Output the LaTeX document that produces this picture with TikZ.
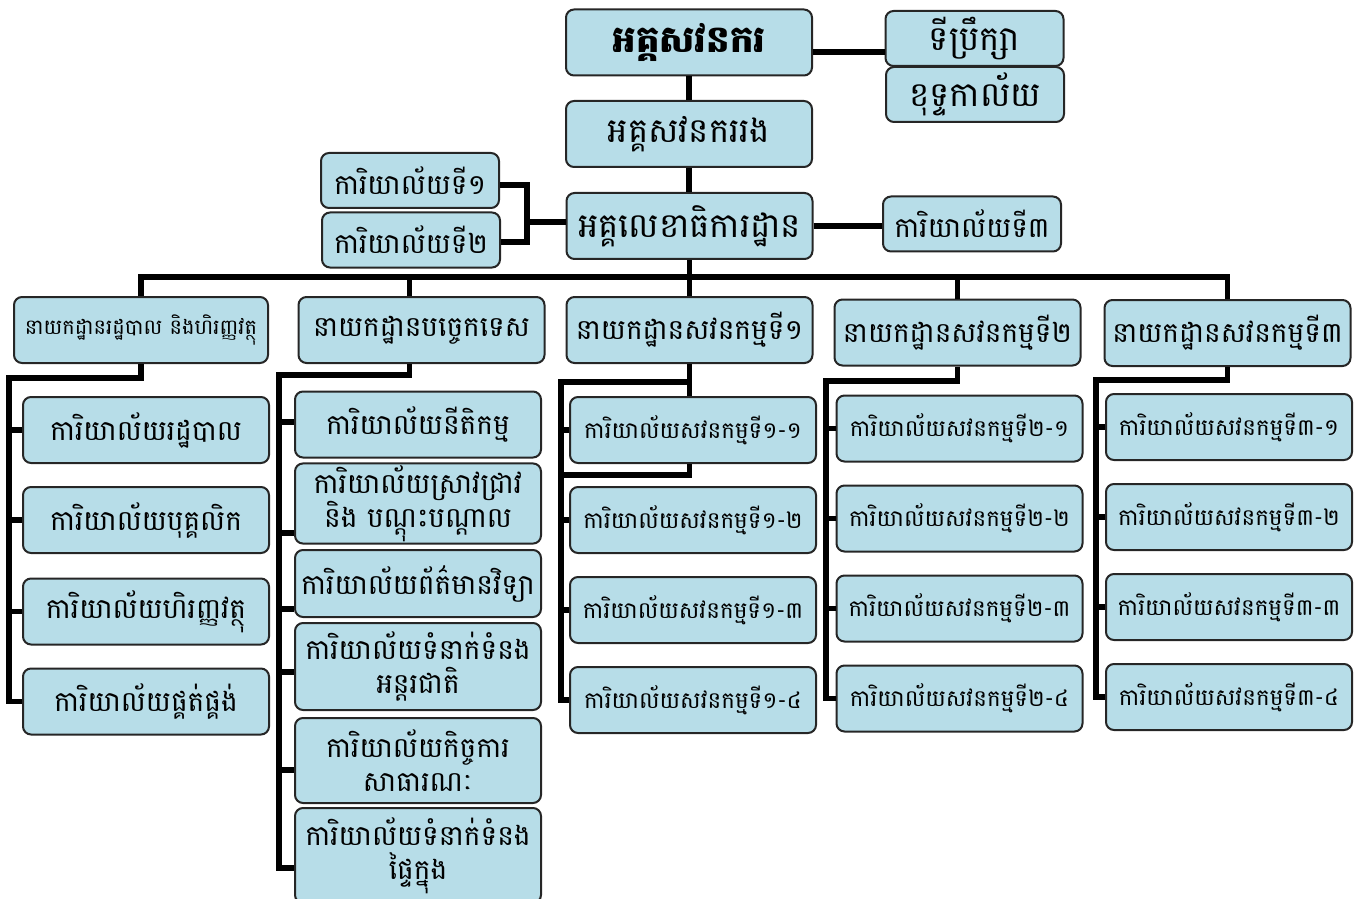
\documentclass[tikz,border=0pt]{standalone}
\usepackage{fontspec}
\newfontfamily\khmer[Script=Khmer]{Battambang}
\usepackage{tikz}
\usetikzlibrary{positioning,calc}
\definecolor{boxblue}{RGB}{183,221,232}

\begin{document}
\begin{tikzpicture}[x=0.5pt,y=-0.5pt,
  box/.style={draw=black!85,line width=1pt,rounded corners=4pt,fill=boxblue,
    align=center,inner sep=1pt,minimum width=123pt,minimum height=33pt,
    font=\khmer\fontsize{14}{17}\selectfont},
  smallbox/.style={box,minimum width=89pt,minimum height=27.5pt},
  smalltext/.style={font=\khmer\fontsize{11.5}{14}\selectfont},
  bigtext/.style={font=\khmer\fontsize{17}{20}\selectfont},
  link/.style={line width=2.75pt}]
  \useasboundingbox (0,0) rectangle (1367,899);

  % --- top of the chart ---
  \node[box,font=\khmer\bfseries\fontsize{18.5}{22}\selectfont] (g) at (689,42.5) {អគ្គសវនករ};
  \node[box,bigtext] (ga) at (689,134) {អគ្គសវនកររង};
  \node[box,bigtext] (gs) at (689.5,226) {អគ្គលេខាធិការដ្ឋាន};
  \node[smallbox,bigtext] (adv) at (974.5,38.5) {ទីប្រឹក្សា};
  \node[smallbox,bigtext] (cab) at (975,94.5) {ខុទ្ទកាល័យ};
  \node[smallbox] (of3) at (972,224) {ការិយាល័យទី៣};
  \node[smallbox] (of1) at (410,180.5) {ការិយាល័យទី១};
  \node[smallbox] (of2) at (411,240) {ការិយាល័យទី២};

  \draw[link] (g) -- (ga);
  \draw[link] (ga.south) -- (ga.south |- gs.north);
  \draw[link] (g.east |- 0,52) -- (adv.west |- 0,52);
  \draw[link] (gs.east) -- (of3.west |- gs.east);
  \coordinate (brk) at (527,222);
  \draw[link] (of1.east |- 0,185) -| (brk) |- (of2.east |- 0,242);
  \draw[link] (brk) -- (gs.west |- brk);

  % --- departments ---
  \node[box,font=\khmer\fontsize{10.5}{13}\selectfont,minimum width=127pt] (dA) at (141,330) {នាយកដ្ឋានរដ្ឋបាល និងហិរញ្ញវត្ថុ};
  \node[box] (dB) at (421.5,330) {នាយកដ្ឋានបច្ចេកទេស};
  \node[box] (dC) at (689.5,330) {នាយកដ្ឋានសវនកម្មទី១};
  \node[box] (dD) at (957.5,332.5) {នាយកដ្ឋានសវនកម្មទី២};
  \node[box] (dE) at (1227.5,333) {នាយកដ្ឋានសវនកម្មទី៣};

  \coordinate (bus) at (689,277);
  \draw[link] (gs.south) -- (gs.south |- bus);
  \draw[link] (dA.north) |- (bus) -| (dE.north);
  \draw[link] ([xshift=-6pt]dB.north) -- ([xshift=-6pt]dB.north |- bus);
  \draw[link] (dC.north) -- (dC.north |- bus);
  \draw[link] (dD.north) -- (dD.north |- bus);

  % --- offices of the first department ---
  \foreach \n/\yy/\t in {a1/430/ការិយាល័យរដ្ឋបាល,a2/520/ការិយាល័យបុគ្គលិក,
      a3/611.5/ការិយាល័យហិរញ្ញវត្ថុ,a4/701.5/ការិយាល័យផ្គត់ផ្គង់}
    \node[box] (\n) at (146,\yy) {\t};

  \coordinate (tA) at (9,378);
  \draw[link] (dA.south) |- (tA) |- (a4.west);
  \foreach \n in {a1,a2,a3}
    \draw[link] (tA |- \n.west) -- (\n.west);

  % --- offices of the technical department ---
  \foreach \n/\yy/\hh/\t in {b1/424.5/33/{ការិយាល័យនីតិកម្ម},
      b2/503.5/39.5/{ការិយាល័យស្រាវជ្រាវ\\និង បណ្តុះបណ្តាល},
      b3/583.5/33.5/{ការិយាល័យព័ត៌មានវិទ្យា},
      b4/666.5/43.5/{ការិយាល័យទំនាក់ទំនង\\អន្តរជាតិ},
      b5/760.5/42.5/{ការិយាល័យកិច្ចការ\\សាធារណៈ},
      b6/855.5/47.5/{ការិយាល័យទំនាក់ទំនង\\ផ្ទៃក្នុង}}
    \node[box,minimum height=\hh pt] (\n) at (418,\yy) {\t};

  \coordinate (tB) at (279,375);
  \draw[link] ([xshift=-6pt]dB.south) |- (tB) |- (b6.west |- 0,868);
  \foreach \n/\yy in {b1/422,b2/533,b3/609,b4/672,b5/770}
    \draw[link] (tB |- 0,\yy) -- (\n.west |- 0,\yy);

  % --- audit offices ---
  \foreach \c/\xx/\yy/\m in {c/693/430/១,d/959.5/428.5/២,e/1229/427/៣}
    \foreach \i/\k in {1/១,2/២,3/៣,4/៤}
      \node[box,smalltext] (\c\i) at (\xx,{\yy+90*(\i-1)}) {ការិយាល័យសវនកម្មទី\m-\k};

  \coordinate (tC) at (561,382);
  \draw[link] (dC.south) -- (dC.south |- c1.north);
  \draw[link] (dC.south |- tC) -- (tC) |- (c4.west);
  \draw[link] (dC.south |- c1.south) |- (tC |- 0,475);
  \coordinate (tD) at (826,381);
  \draw[link] (dD.south) |- (tD) |- (d4.west);
  \coordinate (tE) at (1096,380);
  \draw[link] (dE.south) |- (tE) |- (e4.west);
  \foreach \c/\l in {C/c,D/d,E/e}
    \foreach \n in {1,2,3}
      \draw[link] (t\c |- \l\n.west) -- (\l\n.west);
\end{tikzpicture}
\end{document}
